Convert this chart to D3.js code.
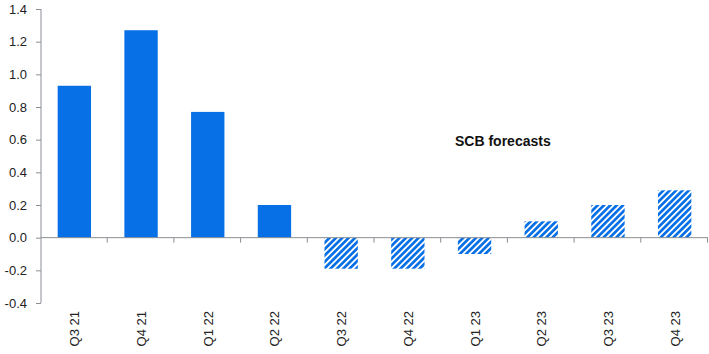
<!DOCTYPE html>
<html>
<head>
<meta charset="utf-8">
<script src="https://cdn.jsdelivr.net/npm/d3@7.9.0/dist/d3.min.js"></script>
<style>
  body { margin: 0; background: #fff; }
  text { font-family: "Liberation Sans", Arial, sans-serif; }
</style>
</head>
<body>
<svg width="709" height="354"></svg>
<script>
// Data
const quarters = ["Q3 21", "Q4 21", "Q1 22", "Q2 22", "Q3 22", "Q4 22", "Q1 23", "Q2 23", "Q3 23", "Q4 23"];
const values = [0.93, 1.27, 0.77, 0.20, -0.19, -0.19, -0.10, 0.10, 0.20, 0.29];
const isForecast = [false, false, false, false, true, true, true, true, true, true];
const yTicks = [-0.4, -0.2, 0.0, 0.2, 0.4, 0.6, 0.8, 1.0, 1.2, 1.4];
const note = "SCB forecasts";

const margin = {top: 9, right: 1, bottom: 51, left: 41},
      width = 709 - margin.left - margin.right,
      height = 354 - margin.top - margin.bottom;

const blue = "#0770e6";
const axisColor = "#8a8f94";

const svg = d3.select("svg");

// hatch pattern for forecast bars
const pattern = svg.append("defs").append("pattern")
    .attr("id", "hatch")
    .attr("patternUnits", "userSpaceOnUse")
    .attr("width", 4.5)
    .attr("height", 4.5)
    .attr("patternTransform", "rotate(45)");
pattern.append("rect").attr("width", 4.5).attr("height", 4.5).attr("fill", "#fff");
pattern.append("rect").attr("width", 2.7).attr("height", 4.5).attr("fill", blue);

const g = svg.append("g")
    .attr("transform", `translate(${margin.left},${margin.top})`);

const x = d3.scaleBand()
    .domain(quarters)
    .range([0, width])
    .paddingInner(0.5)
    .paddingOuter(0.25);

const y = d3.scaleLinear()
    .domain([-0.4, 1.4])
    .range([height, 0]);

// bars
g.selectAll(".bar")
    .data(quarters)
    .join("rect")
    .attr("class", "bar")
    .attr("x", d => x(d))
    .attr("width", x.bandwidth())
    .attr("y", (d, i) => y(Math.max(0, values[i])))
    .attr("height", (d, i) => Math.abs(y(values[i]) - y(0)))
    .attr("fill", (d, i) => isForecast[i] ? "url(#hatch)" : blue);

// y axis
const yAxis = g.append("g")
    .call(d3.axisLeft(y).tickValues(yTicks).tickFormat(d3.format(".1f")).tickSize(5).tickPadding(9));
yAxis.select(".domain").attr("stroke", axisColor).attr("d", `M0,${y(-0.4)}V${y(1.4)}`);
yAxis.selectAll(".tick line").attr("stroke", axisColor);
yAxis.selectAll(".tick text")
    .attr("fill", "#222")
    .style("font-size", "13px")
    .text(d => d < 0 ? "-" + d3.format(".1f")(-d) : d3.format(".1f")(d));

// x axis at zero: line with ticks at band boundaries
const step = x.step();
const xAxis = g.append("g").attr("transform", `translate(0,${y(0)})`);
xAxis.append("line")
    .attr("x1", 0).attr("x2", width)
    .attr("stroke", axisColor);
xAxis.selectAll(".xtick")
    .data(quarters)
    .join("line")
    .attr("class", "xtick")
    .attr("x1", (d, i) => (i + 1) * step - 0.5)
    .attr("x2", (d, i) => (i + 1) * step - 0.5)
    .attr("y1", 0).attr("y2", 5)
    .attr("stroke", axisColor);

// category labels, rotated
g.append("g")
    .selectAll("text")
    .data(quarters)
    .join("text")
    .attr("transform", d => `translate(${x(d) + x.bandwidth() / 2 + 5},${height + 8}) rotate(-90)`)
    .attr("text-anchor", "end")
    .attr("fill", "#222")
    .style("font-size", "13px")
    .text(d => d);

// annotation
svg.append("text")
    .attr("x", 455)
    .attr("y", 146)
    .attr("font-weight", "bold")
    .attr("fill", "#111")
    .style("font-size", "14px")
    .text(note);
</script>
</body>
</html>
